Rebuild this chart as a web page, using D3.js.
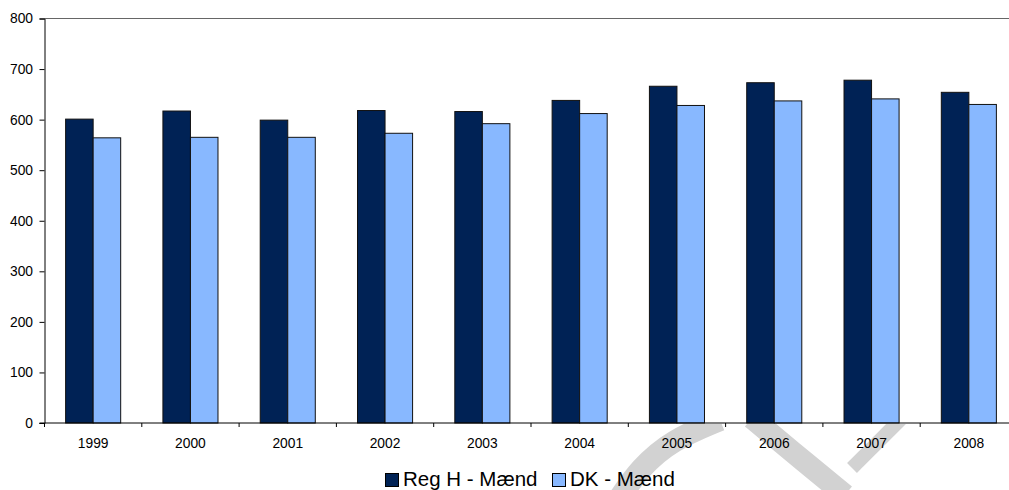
<!DOCTYPE html>
<html>
<head>
<meta charset="utf-8">
<script src="https://cdn.jsdelivr.net/npm/d3@7"></script>
<style>
  html, body { margin: 0; padding: 0; background: #fff; }
  svg { display: block; font-family: "Liberation Sans", Arial, sans-serif; }
</style>
</head>
<body>
<svg id="chart" width="1009" height="490"></svg>
<script>
// Yearly values for the two series
const years = ["1999", "2000", "2001", "2002", "2003", "2004", "2005", "2006", "2007", "2008"];
const regH = [601, 617, 599, 618, 616, 638, 666, 673, 678, 654];
const dk = [564, 565, 565, 573, 592, 612, 628, 637, 641, 630];
const seriesNames = ["Reg H - Mænd", "DK - Mænd"];
const seriesColors = ["#002255", "#88B8FF"];
const yTicks = [0, 100, 200, 300, 400, 500, 600, 700, 800];

(function () {
  const svg = d3.select("#chart");
  const plot = { left: 44.5, right: 1017.5, top: 18.5, bottom: 423 };
  const tickFont = 13.8;

  const x = d3.scaleBand().domain(years).range([plot.left, plot.right]).paddingInner(0).paddingOuter(0);
  const y = d3.scaleLinear().domain([0, 800]).range([plot.bottom, plot.top]);

  // Faint page watermark strokes, visible only below the plot area
  svg.append("clipPath").attr("id", "belowPlot")
    .append("rect").attr("x", 0).attr("y", plot.bottom + 1).attr("width", 1009).attr("height", 70);
  const wm = svg.append("g").attr("clip-path", "url(#belowPlot)")
    .attr("fill", "none").attr("stroke", "#d2d2d2").attr("stroke-linecap", "butt");
  const line = d3.line().curve(d3.curveBasis);
  wm.append("path").attr("stroke-width", 22)
    .attr("d", line([[618, 500], [640, 468], [672, 440], [720, 420]]));
  wm.append("path").attr("stroke-width", 22)
    .attr("d", line([[752, 418], [790, 450], [845, 495]]));
  wm.append("path").attr("stroke-width", 14)
    .attr("d", line([[902, 418], [875, 445], [852, 468]]));

  // Top frame line
  svg.append("line")
    .attr("x1", plot.left).attr("x2", 1009)
    .attr("y1", y(800)).attr("y2", y(800))
    .attr("stroke", "#666").attr("stroke-width", 1);

  // Bars
  const barW = x.bandwidth() * 0.283;
  const series = [regH, dk];
  series.forEach((vals, si) => {
    svg.append("g").selectAll("rect")
      .data(years.map((yr, i) => ({ yr, v: vals[i] })))
      .join("rect")
      .attr("x", d => x(d.yr) + x.bandwidth() / 2 - barW + si * barW)
      .attr("y", d => y(d.v))
      .attr("width", barW)
      .attr("height", d => y(0) - y(d.v))
      .attr("fill", seriesColors[si])
      .attr("stroke", "#111")
      .attr("stroke-width", 1);
  });

  // Y axis
  const yAxis = svg.append("g")
    .attr("transform", `translate(${plot.left},0)`)
    .call(d3.axisLeft(y).tickValues(yTicks).tickSize(5).tickPadding(6.5).tickFormat(d3.format("d")));
  yAxis.select(".domain").attr("stroke", "#000");
  yAxis.selectAll(".tick line").attr("stroke", "#000");
  yAxis.selectAll("text").attr("font-size", tickFont).attr("fill", "#000")
    .attr("font-family", "Liberation Sans, Arial, sans-serif");

  // X axis with ticks at category boundaries
  const xAxis = svg.append("g").attr("transform", `translate(0,${plot.bottom})`);
  xAxis.append("line")
    .attr("x1", plot.left - 5).attr("x2", 1009)
    .attr("stroke", "#000").attr("stroke-width", 1);
  xAxis.selectAll(".bt")
    .data(years.map(yr => x(yr)).concat([plot.right]))
    .join("line")
    .attr("x1", d => d).attr("x2", d => d)
    .attr("y1", 0).attr("y2", 4)
    .attr("stroke", "#000");
  xAxis.selectAll("text")
    .data(years)
    .join("text")
    .attr("x", d => x(d) + x.bandwidth() / 2)
    .attr("y", 25.3)
    .attr("text-anchor", "middle")
    .attr("font-size", tickFont)
    .attr("fill", "#000")
    .text(d => d);

  // Legend
  const legend = svg.append("g").attr("transform", "translate(385,486)");
  const offsets = [0, 167];
  offsets.forEach((ox, i) => {
    const g = legend.append("g").attr("transform", `translate(${ox},0)`);
    g.append("rect").attr("x", 0.5).attr("y", -12.5).attr("width", 13).attr("height", 13)
      .attr("fill", seriesColors[i]).attr("stroke", "#000").attr("stroke-width", 1);
    g.append("text").attr("x", 18).attr("y", 0)
      .attr("font-size", 20.5).attr("fill", "#000").text(seriesNames[i]);
  });
})();
</script>
</body>
</html>
